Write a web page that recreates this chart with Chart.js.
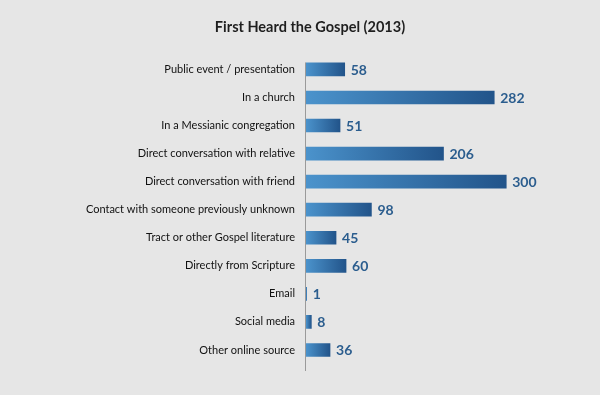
<!DOCTYPE html>
<html>
<head>
<meta charset="utf-8">
<script src="https://cdn.jsdelivr.net/npm/chart.js@4"></script>
<style>
    html, body { margin: 0; padding: 0; background: #e6e6e6; }
    #wrap { width: 600px; height: 395px; }
</style>
</head>
<body>
<div id="wrap"><canvas id="grafica"></canvas></div>
<script>
// Datos
const categorias = [
    'Public event / presentation',
    'In a church',
    'In a Messianic congregation',
    'Direct conversation with relative',
    'Direct conversation with friend',
    'Contact with someone previously unknown',
    'Tract or other Gospel literature',
    'Directly from Scripture',
    'Email',
    'Social media',
    'Other online source'
];
const valores = [58, 282, 51, 206, 300, 98, 45, 60, 1, 8, 36];
const titulo = 'First Heard the Gospel (2013)';

// Degradado por barra: claro a la izquierda, oscuro a la derecha
function colorBarra(context) {
    const chart = context.chart;
    if (!chart.chartArea || !chart.scales.x) return '#3a78b0';
    const x = chart.scales.x;
    const x0 = x.getPixelForValue(0);
    const x1 = x.getPixelForValue(valores[context.dataIndex]);
    if (x1 - x0 < 1) return '#3d7fba';
    const g = chart.ctx.createLinearGradient(x0, 0, x1, 0);
    g.addColorStop(0, '#4b93cc');
    g.addColorStop(1, '#22548a');
    return g;
}

// Números al final de cada barra
const etiquetasValor = {
    id: 'etiquetasValor',
    afterDatasetsDraw(chart) {
        const ctx = chart.ctx;
        const meta = chart.getDatasetMeta(0);
        ctx.save();
        ctx.font = 'bold 14px Lato, "Open Sans", sans-serif';
        ctx.fillStyle = '#2b5d8e';
        ctx.textBaseline = 'middle';
        ctx.textAlign = 'left';
        meta.data.forEach((barra, i) => {
            ctx.fillText(String(valores[i]), barra.x + 6, barra.y + 1);
        });
        ctx.restore();
    }
};

// Línea vertical del eje
const lineaEje = {
    id: 'lineaEje',
    beforeDatasetsDraw(chart) {
        const ctx = chart.ctx;
        const x = chart.scales.x.getPixelForValue(0);
        const y = chart.scales.y;
        const mitad = y.getPixelForValue(1) - y.getPixelForValue(0);
        ctx.save();
        ctx.strokeStyle = '#9a9a9a';
        ctx.lineWidth = 1;
        ctx.beginPath();
        ctx.moveTo(x - 0.5, y.getPixelForValue(0) - 7);
        ctx.lineTo(x - 0.5, y.getPixelForValue(categorias.length - 1) + mitad * 0.75);
        ctx.stroke();
        ctx.restore();
    }
};

new Chart(document.getElementById('grafica'), {
    type: 'bar',
    data: {
        labels: categorias,
        datasets: [{
            data: valores,
            backgroundColor: colorBarra,
            barThickness: 13,
            borderWidth: 0
        }]
    },
    options: {
        indexAxis: 'y',
        responsive: true,
        maintainAspectRatio: false,
        animation: false,
        layout: { padding: { left: 47, right: 27, top: 0, bottom: 31 } },
        plugins: {
            legend: { display: false },
            tooltip: { enabled: false },
            title: {
                display: true,
                text: titulo,
                color: '#1e1e1e',
                font: { family: 'Lato, "Open Sans", sans-serif', size: 14.5, weight: 'bold' },
                padding: { top: 19, bottom: 19 }
            }
        },
        scales: {
            x: {
                display: false,
                min: 0,
                max: 400
            },
            y: {
                grid: { display: false },
                border: { display: false },
                afterFit: (escala) => { escala.width = 259; },
                ticks: {
                    color: '#111111',
                    padding: 3,
                    font: { family: 'Lato, "Open Sans", sans-serif', size: 11 }
                }
            }
        }
    },
    plugins: [lineaEje, etiquetasValor]
});
</script>
</body>
</html>
